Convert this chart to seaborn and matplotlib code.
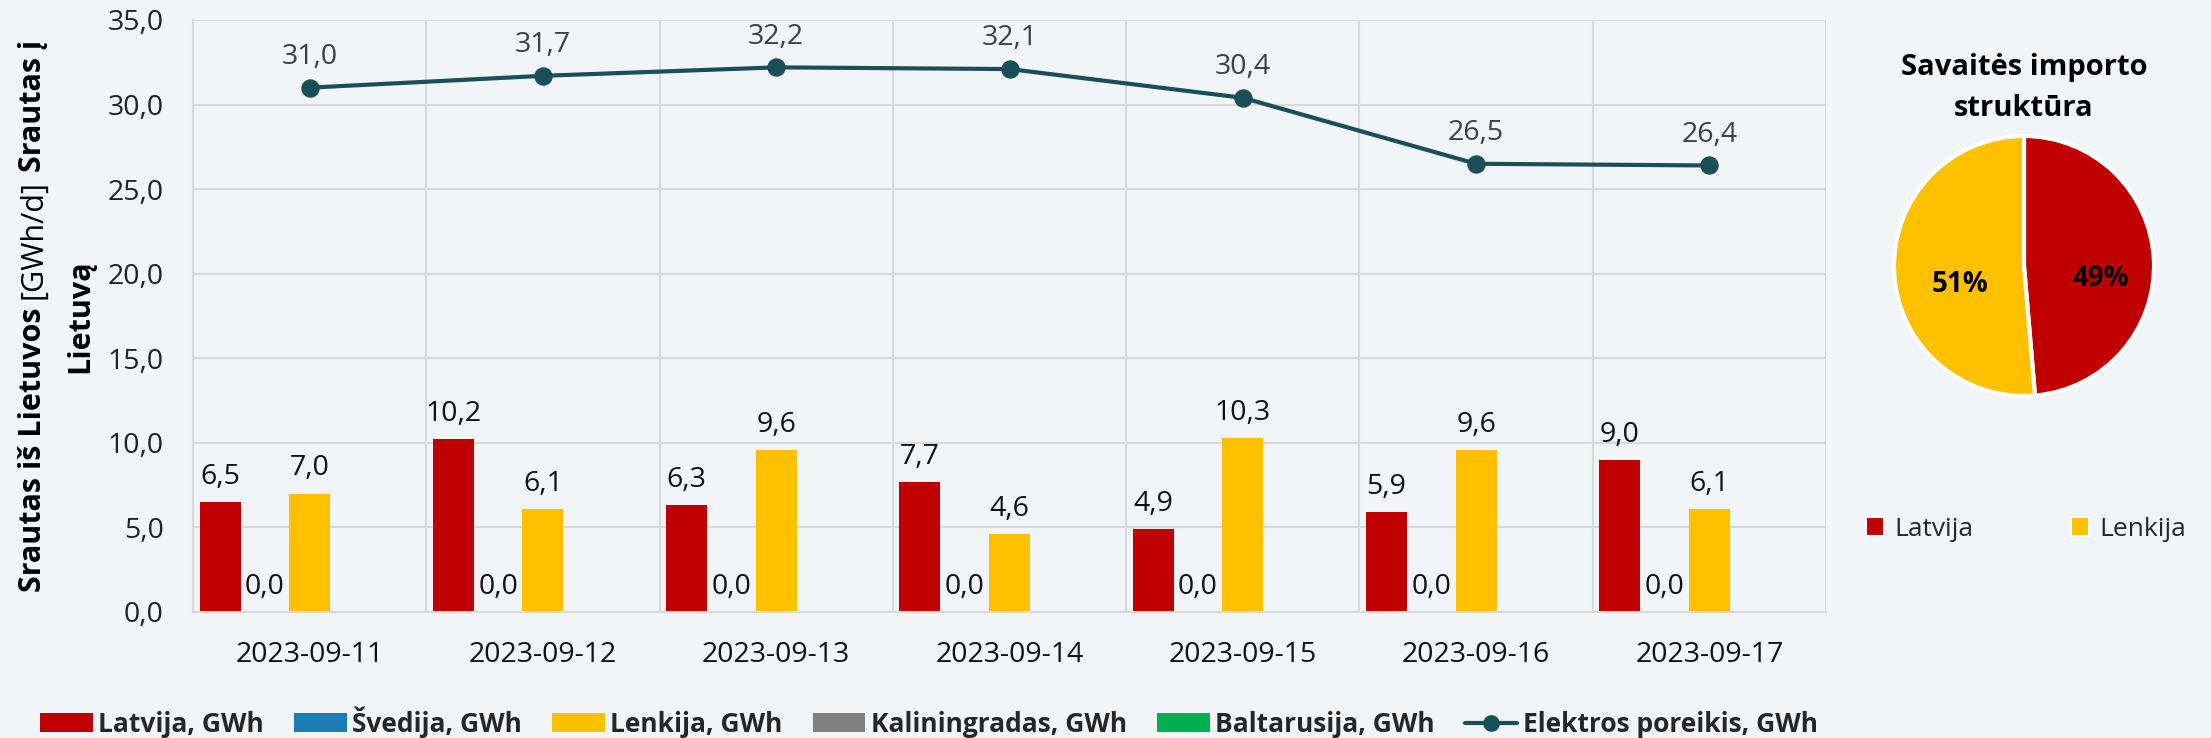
import matplotlib
matplotlib.use("Agg")
import matplotlib.pyplot as plt
from matplotlib.patches import Patch
from matplotlib.lines import Line2D
from matplotlib.ticker import FuncFormatter
import seaborn as sns
import pandas as pd
import numpy as np

# ---------------- data ----------------
dates = ["2023-09-11", "2023-09-12", "2023-09-13", "2023-09-14",
         "2023-09-15", "2023-09-16", "2023-09-17"]
latvija = [6.5, 10.2, 6.3, 7.7, 4.9, 5.9, 9.0]
svedija = [0.0, 0.0, 0.0, 0.0, 0.0, 0.0, 0.0]
lenkija = [7.0, 6.1, 9.6, 4.6, 10.3, 9.6, 6.1]
kaliningradas = [0.0, 0.0, 0.0, 0.0, 0.0, 0.0, 0.0]
baltarusija = [0.0, 0.0, 0.0, 0.0, 0.0, 0.0, 0.0]
poreikis = [31.0, 31.7, 32.2, 32.1, 30.4, 26.5, 26.4]

series_names = ["Latvija, GWh", "Švedija, GWh", "Lenkija, GWh",
                "Kaliningradas, GWh", "Baltarusija, GWh"]
line_name = "Elektros poreikis, GWh"
pie_labels = ["Latvija", "Lenkija"]
pie_title = "Savaitės importo\nstruktūra"

# ---------------- style ----------------
BG = "#F2F5F8"
GRID = "#D9D9D9"
C_LV = "#C00000"
C_SE = "#1B7DB4"
C_PL = "#FFC000"
C_KA = "#808080"
C_BY = "#00B050"
C_LINE = "#1A4F59"
colors = [C_LV, C_SE, C_PL, C_KA, C_BY]

sns.set_theme(style="whitegrid")
plt.rcParams["font.family"] = ["Open Sans", "DejaVu Sans"]
plt.rcParams["figure.facecolor"] = BG
plt.rcParams["axes.facecolor"] = BG

W, H = 2211, 738
fig = plt.figure(figsize=(W / 100, H / 100), dpi=100)
fig.patch.set_facecolor(BG)

ax = fig.add_axes([193 / W, (H - 612) / H, (1826 - 193) / W, 592 / H])
ax.set_facecolor(BG)

df = pd.DataFrame({
    "date": np.tile(dates, len(series_names)),
    "series": np.repeat(series_names, len(dates)),
    "value": np.concatenate([latvija, svedija, lenkija, kaliningradas, baltarusija]),
})

sns.barplot(data=df, x="date", y="value", hue="series", hue_order=series_names,
            order=dates, palette=colors, width=0.96, gap=0.085, linewidth=0,
            saturation=1, legend=False, ax=ax)

def fmt(v):
    return f"{v:.1f}".replace(".", ",")

LAB_FS = 20.5
for i, cont in enumerate(ax.containers[:3]):
    vals = [latvija, svedija, lenkija][i]
    ax.bar_label(cont, labels=[fmt(v) for v in vals], padding=8,
                 fontsize=LAB_FS, color="#111111")

sns.pointplot(x=dates, y=poreikis, order=dates, color=C_LINE, markers="o",
              markersize=11, linewidth=3, errorbar=None, ax=ax)
for ln in ax.lines:
    ln.set_zorder(5)

for i, v in enumerate(poreikis):
    ax.annotate(fmt(v), (i, v), xytext=(0, 12), textcoords="offset points",
                ha="center", va="bottom", fontsize=LAB_FS, color="#404040")

ax.set_ylim(0, 35)
ax.set_xlim(-0.5, len(dates) - 0.5)
ax.set_yticks(np.arange(0, 36, 5))
ax.yaxis.set_major_formatter(FuncFormatter(lambda v, p: fmt(v)))
ax.set_xticks(np.arange(-0.5, len(dates), 1), minor=True)
ax.grid(False)
ax.grid(axis="y", which="major", color=GRID, linewidth=1.5)
ax.grid(axis="x", which="minor", color=GRID, linewidth=1.5)
ax.tick_params(axis="both", which="both", length=0)
ax.tick_params(axis="y", labelsize=LAB_FS, pad=21, labelcolor="#222222")
ax.tick_params(axis="x", labelsize=LAB_FS, pad=21, labelcolor="#111111")
ax.set_xlabel("")
ax.set_ylabel("")
for s in ["top", "right"]:
    ax.spines[s].set_visible(False)
for s in ["left", "bottom"]:
    ax.spines[s].set_color(GRID)
    ax.spines[s].set_linewidth(1.5)
ax.set_axisbelow(True)

# ---------------- y label (mixed weights) ----------------
renderer = fig.canvas.get_renderer()
ylab_fs = 22
parts = [("Srautas iš Lietuvos", "bold"), ("[GWh/d]", "normal"), ("Srautas į", "bold")]

def measure(s, w):
    t = fig.text(0, 0, s, fontsize=ylab_fs, fontweight=w, rotation=90)
    bb = t.get_window_extent(renderer)
    t.remove()
    return bb.height

space = measure("S S", "bold") - measure("SS", "bold")
lens = [measure(s, w) for s, w in parts]
total = sum(lens) + space * (len(parts) - 1)
yc = H - 316
y = yc - total / 2
for (s, w), L in zip(parts, lens):
    fig.text(33 / W, y / H, s, rotation=90, ha="center", va="bottom",
             fontsize=ylab_fs, fontweight=w, color="#000000")
    y += L + space
fig.text(80 / W, yc / H, "Lietuvą", rotation=90, ha="center", va="center",
         fontsize=ylab_fs, fontweight="bold", color="#000000")

# ---------------- main legend ----------------
handles = [Patch(facecolor=c, edgecolor="none") for c in colors]
handles.append(Line2D([0], [0], color=C_LINE, linewidth=3, marker="o", markersize=11))
labels = series_names + [line_name]
fig.legend(handles, labels, loc="center", bbox_to_anchor=(929 / W, (H - 722) / H),
           ncol=6, frameon=False, prop={"weight": "bold", "size": 19},
           handlelength=2.0, handleheight=0.68, handletextpad=0.2,
           columnspacing=1.14, borderpad=0, borderaxespad=0)

# ---------------- pie ----------------
pie_vals = [sum(latvija), sum(lenkija)]
pcx, pcy, R = 2024, 266, 130
side = R * 2.5
pax = fig.add_axes([(pcx - side / 2) / W, (H - pcy - side / 2) / H, side / W, side / H])
pax.set_facecolor(BG)
wedges, texts, autotexts = pax.pie(
    pie_vals, colors=[C_LV, C_PL], startangle=90, counterclock=False,
    wedgeprops=dict(edgecolor="white", linewidth=3),
    autopct=lambda p: f"{p:.0f}%", pctdistance=0.6,
    textprops=dict(fontsize=20, fontweight="bold", color="black"))
pax.set_aspect("equal")
for at in autotexts:
    px, py = at.get_position()
    at.set_position((px * 0.95 + (0.08 if px < 0 else 0.02), py - 0.12))

fig.text(pcx / W, (H - 88) / H, pie_title, ha="center", va="center",
         fontsize=21, fontweight="bold", linespacing=1.55, color="#000000")

pie_handles = [Patch(facecolor=C_LV, edgecolor="white", linewidth=1.5),
               Patch(facecolor=C_PL, edgecolor="white", linewidth=1.5)]
fig.legend(pie_handles, pie_labels, loc="center",
           bbox_to_anchor=(2026 / W, (H - 529) / H), ncol=2, frameon=False,
           prop={"size": 19}, handlelength=0.7, handleheight=0.7,
           handletextpad=0.38, columnspacing=3.7, borderpad=0, borderaxespad=0)

fig.savefig("out.png", dpi=100, facecolor=BG)
